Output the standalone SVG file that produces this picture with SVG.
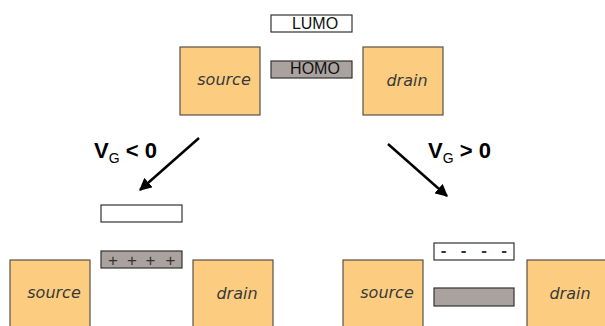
<svg xmlns="http://www.w3.org/2000/svg" width="605" height="326" viewBox="0 0 605 326">
<style>
.elec{fill:#fccd80;stroke:#5a5048;stroke-width:1.2}
.lumo{fill:#ffffff;stroke:#333;stroke-width:1.2}
.homo{fill:#aaa29e;stroke:#333;stroke-width:1.2}
.et{font-family:"DejaVu Sans",Verdana,sans-serif;font-style:italic;font-size:16px;fill:#3a3a3a;text-anchor:middle}
.lt{font-family:"Liberation Sans",Arial,sans-serif;font-size:16px;fill:#111;text-anchor:middle}
.vt{font-family:"Liberation Sans",Arial,sans-serif;font-size:22px;font-weight:bold;fill:#000}
.sub{font-size:14px;font-weight:normal}
.ch{font-family:"Liberation Sans",Arial,sans-serif;font-size:17px;fill:#333;text-anchor:middle}
.arr{stroke:#000;stroke-width:2.5;fill:none}
</style>
<defs>
<marker id="ah" viewBox="0 0 10 10" refX="9" refY="5" markerWidth="5" markerHeight="5" orient="auto" markerUnits="strokeWidth">
<path d="M0,0 L10,5 L0,10 z" fill="#000"/>
</marker>
</defs>
<g id="top">
<g id="top-source"><rect class="elec" x="180" y="47" width="80" height="68"/><text class="et" x="224" y="85">source</text></g>
<g id="top-drain"><rect class="elec" x="363" y="47" width="80" height="68"/><text class="et" x="407" y="86">drain</text></g>
<g id="top-lumo"><rect class="lumo" x="271" y="15" width="81" height="17"/><text class="lt" x="315" y="29">LUMO</text></g>
<g id="top-homo"><rect class="homo" x="271" y="61" width="81" height="17"/><text class="lt" x="315" y="74">HOMO</text></g>
</g>
<g id="connectors">
<line class="arr" x1="199" y1="138" x2="140" y2="190" marker-end="url(#ah)"/>
<line class="arr" x1="388" y1="144" x2="447" y2="196" marker-end="url(#ah)"/>
</g>
<g id="label-neg"><text class="vt" x="94" y="158">V<tspan class="sub" dy="5">G</tspan><tspan dy="-5"> &lt; 0</tspan></text></g>
<g id="label-pos"><text class="vt" x="428" y="158">V<tspan class="sub" dy="5">G</tspan><tspan dy="-5"> &gt; 0</tspan></text></g>
<g id="left">
<g id="left-source"><rect class="elec" x="10" y="260" width="80" height="80"/><text class="et" x="54" y="298">source</text></g>
<g id="left-drain"><rect class="elec" x="193" y="260" width="80" height="80"/><text class="et" x="237" y="299">drain</text></g>
<g id="left-lumo"><rect class="lumo" x="101" y="205" width="81" height="17"/></g>
<g id="left-homo"><rect class="homo" x="101" y="251" width="81" height="17"/>
<text class="ch" x="113" y="266">+</text><text class="ch" x="132" y="266">+</text><text class="ch" x="150.5" y="266">+</text><text class="ch" x="170.5" y="266">+</text></g>
</g>
<g id="right">
<g id="right-source"><rect class="elec" x="343" y="260" width="80" height="80"/><text class="et" x="387" y="298">source</text></g>
<g id="right-drain"><rect class="elec" x="527" y="260" width="80" height="80"/><text class="et" x="570" y="299">drain</text></g>
<g id="right-lumo"><rect class="lumo" x="434" y="243" width="80" height="17"/>
<text class="ch" x="443.5" y="256" font-weight="bold">-</text><text class="ch" x="463.5" y="256" font-weight="bold">-</text><text class="ch" x="484" y="256" font-weight="bold">-</text><text class="ch" x="504" y="256" font-weight="bold">-</text></g>
<g id="right-homo"><rect class="homo" x="434" y="288" width="80" height="18"/></g>
</g>
</svg>
